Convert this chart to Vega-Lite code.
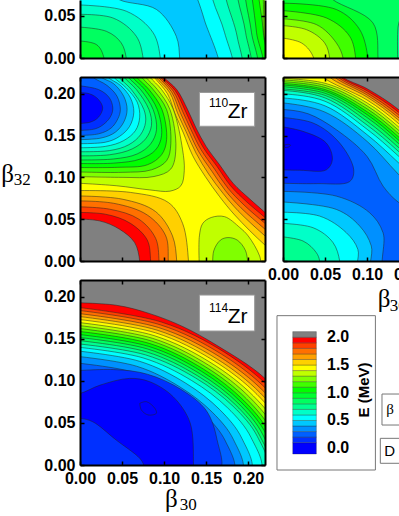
{"$schema":"https://vega.github.io/schema/vega-lite/v6.json","padding":{"left":1,"top":0,"right":0,"bottom":0},"bounds":"flush","align":"each","columns":2,"spacing":{"row":19,"column":18},
"config":{"view":{"stroke":null},"axis":{"grid":false,"labelFont":"Liberation Sans","labelFontWeight":"bold","labelFontSize":16,"labelColor":"#000","tickColor":"#000","domainColor":"#000","domainWidth":2,"tickWidth":1.5,"tickSize":-4,"labelPadding":9,"labelOverlap":false,"labelFlush":false,"labelBound":false}},
"datasets":{
"a":[{"l":2,"x":-0.02,"y":0.0505},{"l":2,"x":0.023,"y":0.048},{"l":2,"x":0.047,"y":0.038},{"l":2,"x":0.065,"y":0.022},{"l":2,"x":0.071,"y":0},{"l":2,"x":0.071,"y":-0.02},{"l":2,"x":0.25,"y":-0.02},{"l":2,"x":0.25,"y":0.03},{"l":2,"x":0.22,"y":0.058},{"l":2,"x":0.202,"y":0.074},{"l":2,"x":0.182,"y":0.093},{"l":2,"x":0.166,"y":0.115},{"l":2,"x":0.15,"y":0.137},{"l":2,"x":0.138,"y":0.159},{"l":2,"x":0.128,"y":0.181},{"l":2,"x":0.115,"y":0.205},{"l":2,"x":0.099,"y":0.22},{"l":2,"x":0.09,"y":0.23},{"l":2,"x":-0.02,"y":0.23},
{"l":1.9,"x":-0.02,"y":0.058},{"l":1.9,"x":0.03,"y":0.056},{"l":1.9,"x":0.06,"y":0.045},{"l":1.9,"x":0.08,"y":0.025},{"l":1.9,"x":0.084,"y":0},{"l":1.9,"x":0.084,"y":-0.02},{"l":1.9,"x":0.25,"y":-0.02},{"l":1.9,"x":0.25,"y":0.025},{"l":1.9,"x":0.22,"y":0.052},{"l":1.9,"x":0.1985,"y":0.0705},{"l":1.9,"x":0.179,"y":0.09},{"l":1.9,"x":0.163,"y":0.113},{"l":1.9,"x":0.147,"y":0.135},{"l":1.9,"x":0.135,"y":0.158},{"l":1.9,"x":0.125,"y":0.18},{"l":1.9,"x":0.113,"y":0.204},{"l":1.9,"x":0.097,"y":0.22},{"l":1.9,"x":0.09,"y":0.23},{"l":1.9,"x":-0.02,"y":0.23},
{"l":1.8,"x":-0.02,"y":0.065},{"l":1.8,"x":0.035,"y":0.062},{"l":1.8,"x":0.07,"y":0.05},{"l":1.8,"x":0.09,"y":0.027},{"l":1.8,"x":0.094,"y":0},{"l":1.8,"x":0.094,"y":-0.02},{"l":1.8,"x":0.25,"y":-0.02},{"l":1.8,"x":0.25,"y":0.02},{"l":1.8,"x":0.22,"y":0.045},{"l":1.8,"x":0.195,"y":0.067},{"l":1.8,"x":0.176,"y":0.087},{"l":1.8,"x":0.16,"y":0.11},{"l":1.8,"x":0.144,"y":0.133},{"l":1.8,"x":0.132,"y":0.157},{"l":1.8,"x":0.122,"y":0.179},{"l":1.8,"x":0.111,"y":0.203},{"l":1.8,"x":0.095,"y":0.22},{"l":1.8,"x":0.088,"y":0.23},{"l":1.8,"x":-0.02,"y":0.23},
{"l":1.7,"x":-0.02,"y":0.072},{"l":1.7,"x":0.04,"y":0.069},{"l":1.7,"x":0.08,"y":0.055},{"l":1.7,"x":0.102,"y":0.03},{"l":1.7,"x":0.105,"y":0},{"l":1.7,"x":0.105,"y":-0.02},{"l":1.7,"x":0.25,"y":-0.02},{"l":1.7,"x":0.25,"y":0.012},{"l":1.7,"x":0.22,"y":0.038},{"l":1.7,"x":0.1915,"y":0.0635},{"l":1.7,"x":0.173,"y":0.084},{"l":1.7,"x":0.157,"y":0.107},{"l":1.7,"x":0.141,"y":0.131},{"l":1.7,"x":0.129,"y":0.156},{"l":1.7,"x":0.119,"y":0.178},{"l":1.7,"x":0.109,"y":0.202},{"l":1.7,"x":0.093,"y":0.22},{"l":1.7,"x":0.086,"y":0.23},{"l":1.7,"x":-0.02,"y":0.23},
{"l":1.6,"x":-0.02,"y":0.078},{"l":1.6,"x":0.05,"y":0.074},{"l":1.6,"x":0.09,"y":0.059},{"l":1.6,"x":0.11,"y":0.03},{"l":1.6,"x":0.115,"y":0},{"l":1.6,"x":0.115,"y":-0.02},{"l":1.6,"x":0.25,"y":-0.02},{"l":1.6,"x":0.25,"y":0.005},{"l":1.6,"x":0.22,"y":0.03},{"l":1.6,"x":0.188,"y":0.06},{"l":1.6,"x":0.17,"y":0.081},{"l":1.6,"x":0.153,"y":0.104},{"l":1.6,"x":0.138,"y":0.129},{"l":1.6,"x":0.126,"y":0.155},{"l":1.6,"x":0.116,"y":0.177},{"l":1.6,"x":0.107,"y":0.201},{"l":1.6,"x":0.09,"y":0.22},{"l":1.6,"x":0.083,"y":0.23},{"l":1.6,"x":-0.02,"y":0.23},
{"l":1.5,"x":-0.02,"y":0.084},{"l":1.5,"x":0.06,"y":0.082},{"l":1.5,"x":0.105,"y":0.07},{"l":1.5,"x":0.122,"y":0.045},{"l":1.5,"x":0.129,"y":0},{"l":1.5,"x":0.129,"y":-0.02},{"l":1.5,"x":0.25,"y":-0.02},{"l":1.5,"x":0.25,"y":-0.005},{"l":1.5,"x":0.22,"y":0.019},{"l":1.5,"x":0.184,"y":0.055},{"l":1.5,"x":0.166,"y":0.077},{"l":1.5,"x":0.149,"y":0.101},{"l":1.5,"x":0.134,"y":0.126},{"l":1.5,"x":0.123,"y":0.153},{"l":1.5,"x":0.113,"y":0.176},{"l":1.5,"x":0.104,"y":0.2},{"l":1.5,"x":0.088,"y":0.22},{"l":1.5,"x":0.081,"y":0.23},{"l":1.5,"x":-0.02,"y":0.23},
{"l":1.4,"x":-0.02,"y":0.094},{"l":1.4,"x":0.043,"y":0.09},{"l":1.4,"x":0.083,"y":0.085},{"l":1.4,"x":0.107,"y":0.0835},{"l":1.4,"x":0.12,"y":0.09},{"l":1.4,"x":0.124,"y":0.108},{"l":1.4,"x":0.122,"y":0.133},{"l":1.4,"x":0.111,"y":0.181},{"l":1.4,"x":0.097,"y":0.205},{"l":1.4,"x":0.083,"y":0.22},{"l":1.4,"x":0.076,"y":0.23},{"l":1.4,"x":-0.02,"y":0.23},
{"l":1.4,"g":1,"x":0.142,"y":-0.01},{"l":1.4,"g":1,"x":0.142,"y":0.03},{"l":1.4,"g":1,"x":0.146,"y":0.045},{"l":1.4,"g":1,"x":0.156,"y":0.052},{"l":1.4,"g":1,"x":0.172,"y":0.053},{"l":1.4,"g":1,"x":0.19,"y":0.04},{"l":1.4,"g":1,"x":0.2,"y":0.03},{"l":1.4,"g":1,"x":0.2136,"y":0.006},{"l":1.4,"g":1,"x":0.216,"y":-0.01},
{"l":1.3,"x":-0.02,"y":0.1015},{"l":1.3,"x":0.05,"y":0.1},{"l":1.3,"x":0.088,"y":0.101},{"l":1.3,"x":0.108,"y":0.11},{"l":1.3,"x":0.114,"y":0.135},{"l":1.3,"x":0.107,"y":0.181},{"l":1.3,"x":0.092,"y":0.205},{"l":1.3,"x":0.078,"y":0.22},{"l":1.3,"x":0.071,"y":0.23},{"l":1.3,"x":-0.02,"y":0.23},
{"l":1.3,"g":1,"x":0.158,"y":-0.01},{"l":1.3,"g":1,"x":0.159,"y":0.012},{"l":1.3,"g":1,"x":0.167,"y":0.025},{"l":1.3,"g":1,"x":0.176,"y":0.028},{"l":1.3,"g":1,"x":0.187,"y":0.025},{"l":1.3,"g":1,"x":0.197,"y":0.012},{"l":1.3,"g":1,"x":0.2,"y":-0.01},
{"l":1.2,"x":-0.02,"y":0.107},{"l":1.2,"x":0.05,"y":0.106},{"l":1.2,"x":0.085,"y":0.109},{"l":1.2,"x":0.103,"y":0.12},{"l":1.2,"x":0.108,"y":0.14},{"l":1.2,"x":0.103,"y":0.181},{"l":1.2,"x":0.087,"y":0.205},{"l":1.2,"x":0.073,"y":0.22},{"l":1.2,"x":0.066,"y":0.23},{"l":1.2,"x":-0.02,"y":0.23},
{"l":1.1,"x":-0.02,"y":0.112},{"l":1.1,"x":0.045,"y":0.112},{"l":1.1,"x":0.08,"y":0.115},{"l":1.1,"x":0.097,"y":0.127},{"l":1.1,"x":0.103,"y":0.145},{"l":1.1,"x":0.0975,"y":0.181},{"l":1.1,"x":0.082,"y":0.205},{"l":1.1,"x":0.067,"y":0.22},{"l":1.1,"x":0.06,"y":0.23},{"l":1.1,"x":-0.02,"y":0.23},
{"l":1,"x":-0.02,"y":0.117},{"l":1,"x":0.04,"y":0.117},{"l":1,"x":0.072,"y":0.122},{"l":1,"x":0.09,"y":0.133},{"l":1,"x":0.097,"y":0.15},{"l":1,"x":0.092,"y":0.181},{"l":1,"x":0.077,"y":0.205},{"l":1,"x":0.062,"y":0.22},{"l":1,"x":0.055,"y":0.23},{"l":1,"x":-0.02,"y":0.23},
{"l":0.9,"x":-0.02,"y":0.121},{"l":0.9,"x":0.04,"y":0.122},{"l":0.9,"x":0.068,"y":0.128},{"l":0.9,"x":0.084,"y":0.14},{"l":0.9,"x":0.091,"y":0.157},{"l":0.9,"x":0.087,"y":0.181},{"l":0.9,"x":0.072,"y":0.205},{"l":0.9,"x":0.057,"y":0.22},{"l":0.9,"x":0.05,"y":0.23},{"l":0.9,"x":-0.02,"y":0.23},
{"l":0.8,"x":-0.02,"y":0.126},{"l":0.8,"x":0.035,"y":0.127},{"l":0.8,"x":0.062,"y":0.134},{"l":0.8,"x":0.078,"y":0.146},{"l":0.8,"x":0.085,"y":0.162},{"l":0.8,"x":0.082,"y":0.181},{"l":0.8,"x":0.067,"y":0.205},{"l":0.8,"x":0.052,"y":0.22},{"l":0.8,"x":0.045,"y":0.23},{"l":0.8,"x":-0.02,"y":0.23},
{"l":0.7,"x":-0.02,"y":0.131},{"l":0.7,"x":0.035,"y":0.132},{"l":0.7,"x":0.058,"y":0.139},{"l":0.7,"x":0.072,"y":0.151},{"l":0.7,"x":0.078,"y":0.166},{"l":0.7,"x":0.076,"y":0.181},{"l":0.7,"x":0.061,"y":0.205},{"l":0.7,"x":0.046,"y":0.22},{"l":0.7,"x":0.04,"y":0.23},{"l":0.7,"x":-0.02,"y":0.23},
{"l":0.6,"x":-0.02,"y":0.1355},{"l":0.6,"x":0.03,"y":0.137},{"l":0.6,"x":0.052,"y":0.144},{"l":0.6,"x":0.066,"y":0.156},{"l":0.6,"x":0.071,"y":0.172},{"l":0.6,"x":0.068,"y":0.19},{"l":0.6,"x":0.055,"y":0.207},{"l":0.6,"x":0.04,"y":0.22},{"l":0.6,"x":0.034,"y":0.23},{"l":0.6,"x":-0.02,"y":0.23},
{"l":0.5,"x":-0.02,"y":0.1405},{"l":0.5,"x":0.03,"y":0.142},{"l":0.5,"x":0.047,"y":0.149},{"l":0.5,"x":0.059,"y":0.161},{"l":0.5,"x":0.064,"y":0.178},{"l":0.5,"x":0.06,"y":0.195},{"l":0.5,"x":0.048,"y":0.21},{"l":0.5,"x":0.033,"y":0.22},{"l":0.5,"x":0.027,"y":0.23},{"l":0.5,"x":-0.02,"y":0.23},
{"l":0.4,"x":-0.02,"y":0.145},{"l":0.4,"x":0.025,"y":0.147},{"l":0.4,"x":0.042,"y":0.154},{"l":0.4,"x":0.052,"y":0.166},{"l":0.4,"x":0.056,"y":0.181},{"l":0.4,"x":0.052,"y":0.197},{"l":0.4,"x":0.04,"y":0.212},{"l":0.4,"x":0.025,"y":0.22},{"l":0.4,"x":0.018,"y":0.23},{"l":0.4,"x":-0.02,"y":0.23},
{"l":0.3,"x":-0.02,"y":0.15},{"l":0.3,"x":0.022,"y":0.152},{"l":0.3,"x":0.037,"y":0.159},{"l":0.3,"x":0.045,"y":0.17},{"l":0.3,"x":0.048,"y":0.181},{"l":0.3,"x":0.044,"y":0.197},{"l":0.3,"x":0.032,"y":0.21},{"l":0.3,"x":0.015,"y":0.22},{"l":0.3,"x":0.008,"y":0.23},{"l":0.3,"x":-0.02,"y":0.23},
{"l":0.2,"x":-0.02,"y":0.156},{"l":0.2,"x":0.018,"y":0.158},{"l":0.2,"x":0.03,"y":0.165},{"l":0.2,"x":0.037,"y":0.174},{"l":0.2,"x":0.039,"y":0.183},{"l":0.2,"x":0.035,"y":0.195},{"l":0.2,"x":0.022,"y":0.205},{"l":0.2,"x":-0.02,"y":0.2115},
{"l":0.1,"x":-0.02,"y":0.164},{"l":0.1,"x":0.012,"y":0.166},{"l":0.1,"x":0.022,"y":0.172},{"l":0.1,"x":0.027,"y":0.183},{"l":0.1,"x":0.022,"y":0.193},{"l":0.1,"x":0.011,"y":0.2},{"l":0.1,"x":-0.02,"y":0.2015}],
"b":[{"l":2,"x":-0.02,"y":0.1934},{"l":2,"x":0.043,"y":0.19},{"l":2,"x":0.083,"y":0.18},{"l":2,"x":0.1225,"y":0.1645},{"l":2,"x":0.162,"y":0.1427},{"l":2,"x":0.22,"y":0.103},{"l":2,"x":0.2676,"y":0.0449},{"l":2,"x":0.2817,"y":-0.01},{"l":2,"x":-0.02,"y":-0.02},
{"l":1.9,"x":-0.02,"y":0.1895},{"l":1.9,"x":0.0968,"y":0.17},{"l":1.9,"x":0.1716,"y":0.1342},{"l":1.9,"x":0.2269,"y":0.0908},{"l":1.9,"x":0.2629,"y":0.044},{"l":1.9,"x":0.2767,"y":-0.01},{"l":1.9,"x":-0.02,"y":-0.02},
{"l":1.8,"x":-0.02,"y":0.186},{"l":1.8,"x":0.0951,"y":0.1668},{"l":1.8,"x":0.1685,"y":0.1317},{"l":1.8,"x":0.2229,"y":0.0891},{"l":1.8,"x":0.2582,"y":0.0432},{"l":1.8,"x":0.2718,"y":-0.01},{"l":1.8,"x":-0.02,"y":-0.02},
{"l":1.7,"x":-0.02,"y":0.1823},{"l":1.7,"x":0.0933,"y":0.1635},{"l":1.7,"x":0.1654,"y":0.1291},{"l":1.7,"x":0.2187,"y":0.0873},{"l":1.7,"x":0.2534,"y":0.0423},{"l":1.7,"x":0.2667,"y":-0.01},{"l":1.7,"x":-0.02,"y":-0.02},
{"l":1.6,"x":-0.02,"y":0.1788},{"l":1.6,"x":0.0915,"y":0.1604},{"l":1.6,"x":0.1621,"y":0.1266},{"l":1.6,"x":0.2144,"y":0.0856},{"l":1.6,"x":0.2484,"y":0.0415},{"l":1.6,"x":0.2615,"y":-0.01},{"l":1.6,"x":-0.02,"y":-0.02},
{"l":1.5,"x":-0.02,"y":0.1752},{"l":1.5,"x":0.0898,"y":0.1572},{"l":1.5,"x":0.1592,"y":0.124},{"l":1.5,"x":0.2105,"y":0.0839},{"l":1.5,"x":0.2439,"y":0.0406},{"l":1.5,"x":0.2567,"y":-0.01},{"l":1.5,"x":-0.02,"y":-0.02},
{"l":1.4,"x":-0.02,"y":0.1716},{"l":1.4,"x":0.088,"y":0.1539},{"l":1.4,"x":0.1558,"y":0.1215},{"l":1.4,"x":0.2061,"y":0.0822},{"l":1.4,"x":0.2387,"y":0.0398},{"l":1.4,"x":0.2513,"y":-0.01},{"l":1.4,"x":-0.02,"y":-0.02},
{"l":1.3,"x":-0.02,"y":0.168},{"l":1.3,"x":0.0861,"y":0.1507},{"l":1.3,"x":0.1526,"y":0.1189},{"l":1.3,"x":0.2018,"y":0.0805},{"l":1.3,"x":0.2338,"y":0.039},{"l":1.3,"x":0.2461,"y":-0.01},{"l":1.3,"x":-0.02,"y":-0.02},
{"l":1.2,"x":-0.02,"y":0.1645},{"l":1.2,"x":0.0845,"y":0.1476},{"l":1.2,"x":0.1496,"y":0.1165},{"l":1.2,"x":0.1979,"y":0.0788},{"l":1.2,"x":0.2292,"y":0.0382},{"l":1.2,"x":0.2413,"y":-0.01},{"l":1.2,"x":-0.02,"y":-0.02},
{"l":1.1,"x":-0.02,"y":0.161},{"l":1.1,"x":0.083,"y":0.1444},{"l":1.1,"x":0.1469,"y":0.114},{"l":1.1,"x":0.1943,"y":0.0771},{"l":1.1,"x":0.2252,"y":0.0374},{"l":1.1,"x":0.237,"y":-0.01},{"l":1.1,"x":-0.02,"y":-0.02},
{"l":1,"x":-0.02,"y":0.1573},{"l":1,"x":0.0816,"y":0.1411},{"l":1,"x":0.1445,"y":0.1114},{"l":1,"x":0.1911,"y":0.0753},{"l":1,"x":0.2214,"y":0.0365},{"l":1,"x":0.233,"y":-0.01},{"l":1,"x":-0.02,"y":-0.02},
{"l":0.9,"x":-0.02,"y":0.1538},{"l":0.9,"x":0.0802,"y":0.138},{"l":0.9,"x":0.142,"y":0.1089},{"l":0.9,"x":0.1878,"y":0.0737},{"l":0.9,"x":0.2176,"y":0.0357},{"l":0.9,"x":0.229,"y":-0.01},{"l":0.9,"x":-0.02,"y":-0.02},
{"l":0.8,"x":-0.02,"y":0.15},{"l":0.8,"x":0.0788,"y":0.1346},{"l":0.8,"x":0.1396,"y":0.1062},{"l":0.8,"x":0.1846,"y":0.0719},{"l":0.8,"x":0.2138,"y":0.0348},{"l":0.8,"x":0.2251,"y":-0.01},{"l":0.8,"x":-0.02,"y":-0.02},
{"l":0.7,"x":-0.02,"y":0.146},{"l":0.7,"x":0.0777,"y":0.131},{"l":0.7,"x":0.1376,"y":0.1034},{"l":0.7,"x":0.182,"y":0.0699},{"l":0.7,"x":0.2109,"y":0.0339},{"l":0.7,"x":0.222,"y":-0.01},{"l":0.7,"x":-0.02,"y":-0.02},
{"l":0.6,"x":-0.02,"y":0.142},{"l":0.6,"x":0.0749,"y":0.1274},{"l":0.6,"x":0.1327,"y":0.1005},{"l":0.6,"x":0.1755,"y":0.068},{"l":0.6,"x":0.2033,"y":0.0329},{"l":0.6,"x":0.214,"y":-0.01},{"l":0.6,"x":-0.02,"y":-0.02},
{"l":0.5,"x":-0.02,"y":0.1375},{"l":0.5,"x":0.0709,"y":0.1233},{"l":0.5,"x":0.1256,"y":0.0974},{"l":0.5,"x":0.1661,"y":0.0659},{"l":0.5,"x":0.1924,"y":0.0319},{"l":0.5,"x":0.2025,"y":-0.01},{"l":0.5,"x":-0.02,"y":-0.02},
{"l":0.4,"x":-0.02,"y":0.131},{"l":0.4,"x":0.0672,"y":0.1175},{"l":0.4,"x":0.119,"y":0.0927},{"l":0.4,"x":0.1574,"y":0.0627},{"l":0.4,"x":0.1824,"y":0.0304},{"l":0.4,"x":0.192,"y":-0.01},{"l":0.4,"x":-0.02,"y":-0.02},
{"l":0.3,"x":-0.02,"y":0.123},{"l":0.3,"x":0.0637,"y":0.1103},{"l":0.3,"x":0.1128,"y":0.0871},{"l":0.3,"x":0.1492,"y":0.0589},{"l":0.3,"x":0.1729,"y":0.0285},{"l":0.3,"x":0.182,"y":-0.01},{"l":0.3,"x":-0.02,"y":-0.02},
{"l":0.2,"x":-0.02,"y":0.111},{"l":0.2,"x":0.04,"y":0.1135},{"l":0.2,"x":0.08,"y":0.108},{"l":0.2,"x":0.12,"y":0.09},{"l":0.2,"x":0.15,"y":0.065},{"l":0.2,"x":0.163,"y":0.03},{"l":0.2,"x":0.165,"y":-0.01},{"l":0.2,"x":-0.02,"y":-0.02},
{"l":0.1,"x":-0.02,"y":0.082},{"l":0.1,"x":0,"y":0.085},{"l":0.1,"x":0.024,"y":0.095},{"l":0.1,"x":0.059,"y":0.103},{"l":0.1,"x":0.083,"y":0.099},{"l":0.1,"x":0.111,"y":0.081},{"l":0.1,"x":0.131,"y":0.05},{"l":0.1,"x":0.135,"y":0},{"l":0.1,"x":0.135,"y":-0.01},{"l":0.1,"x":0.0757,"y":-0.01},{"l":0.1,"x":0.0757,"y":0},{"l":0.1,"x":0.071,"y":0.008},{"l":0.1,"x":0.043,"y":0.0297},{"l":0.1,"x":0.015,"y":0.0515},{"l":0.1,"x":0,"y":0.0555},{"l":0.1,"x":-0.02,"y":0.056},
{"l":0.1,"g":1,"x":0.071,"y":0.0733},{"l":0.1,"g":1,"x":0.079,"y":0.0753},{"l":0.1,"g":1,"x":0.089,"y":0.0674},{"l":0.1,"g":1,"x":0.0908,"y":0.0614},{"l":0.1,"g":1,"x":0.081,"y":0.0595},{"l":0.1,"g":1,"x":0.073,"y":0.0654},{"l":0.1,"g":1,"x":0.071,"y":0.0733}],
"c":[{"l":1.3,"x":-0.02,"y":-0.02},{"l":1.3,"x":0.25,"y":-0.02},{"l":1.3,"x":0.25,"y":0.09},{"l":1.3,"x":-0.02,"y":0.09},
{"l":1.2,"x":-0.02,"y":-0.02},{"l":1.2,"x":0.24,"y":-0.02},{"l":1.2,"x":0.22,"y":0.02},{"l":1.2,"x":0.218,"y":0.069},{"l":1.2,"x":0.216,"y":0.09},{"l":1.2,"x":-0.02,"y":0.09},
{"l":1.1,"x":-0.02,"y":-0.02},{"l":1.1,"x":0.218,"y":-0.02},{"l":1.1,"x":0.218,"y":0.03},{"l":1.1,"x":0.213,"y":0.069},{"l":1.1,"x":0.21,"y":0.09},{"l":1.1,"x":-0.02,"y":0.09},
{"l":1,"x":-0.02,"y":-0.02},{"l":1,"x":0.2145,"y":-0.02},{"l":1,"x":0.21,"y":0.03},{"l":1,"x":0.205,"y":0.069},{"l":1,"x":0.202,"y":0.09},{"l":1,"x":-0.02,"y":0.09},
{"l":0.9,"x":-0.02,"y":0.021},{"l":0.9,"x":0.0195,"y":0.016},{"l":0.9,"x":0.0285,"y":0},{"l":0.9,"x":0.0285,"y":-0.02},{"l":0.9,"x":0.208,"y":-0.02},{"l":0.9,"x":0.204,"y":0.03},{"l":0.9,"x":0.197,"y":0.069},{"l":0.9,"x":0.195,"y":0.09},{"l":0.9,"x":-0.02,"y":0.09},
{"l":0.8,"x":-0.02,"y":0.0378},{"l":0.8,"x":0.0313,"y":0.0318},{"l":0.8,"x":0.049,"y":0.018},{"l":0.8,"x":0.055,"y":0},{"l":0.8,"x":0.055,"y":-0.02},{"l":0.8,"x":0.2,"y":-0.02},{"l":0.8,"x":0.197,"y":0.03},{"l":0.8,"x":0.188,"y":0.069},{"l":0.8,"x":0.185,"y":0.09},{"l":0.8,"x":-0.02,"y":0.09},
{"l":0.7,"x":-0.02,"y":0.0517},{"l":0.7,"x":0.039,"y":0.0477},{"l":0.7,"x":0.067,"y":0.0258},{"l":0.7,"x":0.075,"y":0},{"l":0.7,"x":0.075,"y":-0.02},{"l":0.7,"x":0.19,"y":-0.02},{"l":0.7,"x":0.187,"y":0.025},{"l":0.7,"x":0.174,"y":0.069},{"l":0.7,"x":0.17,"y":0.09},{"l":0.7,"x":-0.02,"y":0.09},
{"l":0.6,"x":-0.02,"y":0.0636},{"l":0.6,"x":0.055,"y":0.0557},{"l":0.6,"x":0.087,"y":0.03},{"l":0.6,"x":0.0955,"y":0},{"l":0.6,"x":0.0955,"y":-0.02},{"l":0.6,"x":0.18,"y":-0.02},{"l":0.6,"x":0.172,"y":0.03},{"l":0.6,"x":0.158,"y":0.069},{"l":0.6,"x":0.154,"y":0.09},{"l":0.6,"x":-0.02,"y":0.09},
{"l":0.5,"x":0.035,"y":0.08},{"l":0.5,"x":0.047,"y":0.0693},{"l":0.5,"x":0.091,"y":0.0577},{"l":0.5,"x":0.1145,"y":0.0258},{"l":0.5,"x":0.1185,"y":0},{"l":0.5,"x":0.1185,"y":-0.02},{"l":0.5,"x":0.165,"y":-0.02},{"l":0.5,"x":0.148,"y":0.045},{"l":0.5,"x":0.14,"y":0.0693},{"l":0.5,"x":0.135,"y":0.08}],
"d":[{"l":1.5,"x":-0.02,"y":-0.02},{"l":1.5,"x":0.25,"y":-0.02},{"l":1.5,"x":0.25,"y":0.09},{"l":1.5,"x":-0.02,"y":0.09},
{"l":1.4,"x":-0.02,"y":0.0259},{"l":1.4,"x":0.022,"y":0.0179},{"l":1.4,"x":0.0365,"y":0},{"l":1.4,"x":0.0365,"y":-0.02},{"l":1.4,"x":0.25,"y":-0.02},{"l":1.4,"x":0.25,"y":0.09},{"l":1.4,"x":-0.02,"y":0.09},
{"l":1.3,"x":-0.02,"y":0.0398},{"l":1.3,"x":0.0277,"y":0.0338},{"l":1.3,"x":0.0495,"y":0.018},{"l":1.3,"x":0.0555,"y":0},{"l":1.3,"x":0.0555,"y":-0.02},{"l":1.3,"x":0.25,"y":-0.02},{"l":1.3,"x":0.25,"y":0.09},{"l":1.3,"x":-0.02,"y":0.09},
{"l":1.2,"x":-0.02,"y":0.0477},{"l":1.2,"x":0.0396,"y":0.0398},{"l":1.2,"x":0.0634,"y":0.018},{"l":1.2,"x":0.0714,"y":0},{"l":1.2,"x":0.0714,"y":-0.02},{"l":1.2,"x":0.25,"y":-0.02},{"l":1.2,"x":0.25,"y":0.09},{"l":1.2,"x":-0.02,"y":0.09},
{"l":1.1,"x":-0.02,"y":0.0577},{"l":1.1,"x":0.0515,"y":0.0477},{"l":1.1,"x":0.0793,"y":0.0258},{"l":1.1,"x":0.0864,"y":0},{"l":1.1,"x":0.0864,"y":-0.02},{"l":1.1,"x":0.25,"y":-0.02},{"l":1.1,"x":0.25,"y":0.09},{"l":1.1,"x":-0.02,"y":0.09},
{"l":1,"x":-0.02,"y":0.0656},{"l":1,"x":0.0634,"y":0.0577},{"l":1,"x":0.0911,"y":0.034},{"l":1,"x":0.101,"y":0},{"l":1,"x":0.101,"y":-0.02},{"l":1,"x":0.25,"y":-0.02},{"l":1,"x":0.25,"y":0.09},{"l":1,"x":-0.02,"y":0.09},
{"l":0.9,"x":0.05,"y":0.08},{"l":0.9,"x":0.0595,"y":0.0693},{"l":0.9,"x":0.107,"y":0.0417},{"l":0.9,"x":0.113,"y":0},{"l":0.9,"x":0.113,"y":-0.02},{"l":0.9,"x":0.25,"y":-0.02},{"l":0.9,"x":0.25,"y":0.08},
{"l":0.8,"x":0.137,"y":-0.02},{"l":0.8,"x":0.137,"y":0.038},{"l":0.8,"x":0.141,"y":0.05},{"l":0.8,"x":0.15,"y":0.0693},{"l":0.8,"x":0.15,"y":0.09},{"l":0.8,"x":0.25,"y":0.09},{"l":0.8,"x":0.25,"y":-0.02}],
"e":[{"l":2,"x":-0.02,"y":0.23},{"l":2,"x":0.066,"y":0.23},{"l":2,"x":0.0713,"y":0.22},{"l":2,"x":0.1,"y":0.206},{"l":2,"x":0.1375,"y":0.181},{"l":2,"x":0.2,"y":0.121},{"l":2,"x":0.26,"y":0.06},{"l":2,"x":0.26,"y":-0.02},{"l":2,"x":-0.02,"y":-0.02},
{"l":1.9,"x":-0.02,"y":0.23},{"l":1.9,"x":0.063,"y":0.23},{"l":1.9,"x":0.0686,"y":0.22},{"l":1.9,"x":0.1,"y":0.2035},{"l":1.9,"x":0.1375,"y":0.1778},{"l":1.9,"x":0.2,"y":0.118},{"l":1.9,"x":0.26,"y":0.057},{"l":1.9,"x":0.26,"y":-0.02},{"l":1.9,"x":-0.02,"y":-0.02},
{"l":1.8,"x":-0.02,"y":0.23},{"l":1.8,"x":0.06,"y":0.23},{"l":1.8,"x":0.0654,"y":0.22},{"l":1.8,"x":0.1,"y":0.201},{"l":1.8,"x":0.1375,"y":0.1746},{"l":1.8,"x":0.2,"y":0.115},{"l":1.8,"x":0.26,"y":0.054},{"l":1.8,"x":0.26,"y":-0.02},{"l":1.8,"x":-0.02,"y":-0.02},
{"l":1.7,"x":-0.02,"y":0.23},{"l":1.7,"x":0.056,"y":0.23},{"l":1.7,"x":0.0615,"y":0.22},{"l":1.7,"x":0.1,"y":0.1985},{"l":1.7,"x":0.1375,"y":0.1714},{"l":1.7,"x":0.2,"y":0.111},{"l":1.7,"x":0.26,"y":0.05},{"l":1.7,"x":0.26,"y":-0.02},{"l":1.7,"x":-0.02,"y":-0.02},
{"l":1.6,"x":-0.02,"y":0.23},{"l":1.6,"x":0.05,"y":0.23},{"l":1.6,"x":0.0555,"y":0.22},{"l":1.6,"x":0.1,"y":0.196},{"l":1.6,"x":0.1375,"y":0.1683},{"l":1.6,"x":0.2,"y":0.108},{"l":1.6,"x":0.26,"y":0.047},{"l":1.6,"x":0.26,"y":-0.02},{"l":1.6,"x":-0.02,"y":-0.02},
{"l":1.5,"x":-0.02,"y":0.23},{"l":1.5,"x":0.042,"y":0.23},{"l":1.5,"x":0.0476,"y":0.22},{"l":1.5,"x":0.1,"y":0.1925},{"l":1.5,"x":0.1375,"y":0.1643},{"l":1.5,"x":0.2,"y":0.104},{"l":1.5,"x":0.26,"y":0.043},{"l":1.5,"x":0.26,"y":-0.02},{"l":1.5,"x":-0.02,"y":-0.02},
{"l":1.4,"x":-0.02,"y":0.2192},{"l":1.4,"x":0.05,"y":0.2125},{"l":1.4,"x":0.1,"y":0.189},{"l":1.4,"x":0.1375,"y":0.1603},{"l":1.4,"x":0.2,"y":0.1},{"l":1.4,"x":0.26,"y":0.04},{"l":1.4,"x":0.26,"y":-0.02},{"l":1.4,"x":-0.02,"y":-0.02},
{"l":1.3,"x":-0.02,"y":0.2176},{"l":1.3,"x":0.05,"y":0.21},{"l":1.3,"x":0.1,"y":0.1855},{"l":1.3,"x":0.1375,"y":0.1563},{"l":1.3,"x":0.2,"y":0.096},{"l":1.3,"x":0.26,"y":0.036},{"l":1.3,"x":0.26,"y":-0.02},{"l":1.3,"x":-0.02,"y":-0.02},
{"l":1.2,"x":-0.02,"y":0.2156},{"l":1.2,"x":0.05,"y":0.2075},{"l":1.2,"x":0.1,"y":0.182},{"l":1.2,"x":0.1375,"y":0.1523},{"l":1.2,"x":0.2,"y":0.092},{"l":1.2,"x":0.26,"y":0.032},{"l":1.2,"x":0.26,"y":-0.02},{"l":1.2,"x":-0.02,"y":-0.02},
{"l":1.1,"x":-0.02,"y":0.2136},{"l":1.1,"x":0.05,"y":0.205},{"l":1.1,"x":0.1,"y":0.1785},{"l":1.1,"x":0.1375,"y":0.1484},{"l":1.1,"x":0.2,"y":0.088},{"l":1.1,"x":0.26,"y":0.028},{"l":1.1,"x":0.26,"y":-0.02},{"l":1.1,"x":-0.02,"y":-0.02},
{"l":1,"x":-0.02,"y":0.2116},{"l":1,"x":0.05,"y":0.203},{"l":1,"x":0.1,"y":0.175},{"l":1,"x":0.1375,"y":0.1444},{"l":1,"x":0.2,"y":0.084},{"l":1,"x":0.26,"y":0.024},{"l":1,"x":0.26,"y":-0.02},{"l":1,"x":-0.02,"y":-0.02},
{"l":0.9,"x":-0.02,"y":0.2096},{"l":0.9,"x":0.05,"y":0.2005},{"l":0.9,"x":0.1,"y":0.1715},{"l":0.9,"x":0.1375,"y":0.1404},{"l":0.9,"x":0.2,"y":0.08},{"l":0.9,"x":0.26,"y":0.02},{"l":0.9,"x":0.26,"y":-0.02},{"l":0.9,"x":-0.02,"y":-0.02},
{"l":0.8,"x":-0.02,"y":0.2068},{"l":0.8,"x":0.05,"y":0.198},{"l":0.8,"x":0.1,"y":0.167},{"l":0.8,"x":0.1375,"y":0.1356},{"l":0.8,"x":0.2,"y":0.075},{"l":0.8,"x":0.26,"y":0.015},{"l":0.8,"x":0.26,"y":-0.02},{"l":0.8,"x":-0.02,"y":-0.02},
{"l":0.7,"x":-0.02,"y":0.0306},{"l":0.7,"x":0.0238,"y":0.0239},{"l":0.7,"x":0.0396,"y":0.01},{"l":0.7,"x":0.0436,"y":0},{"l":0.7,"x":0.0436,"y":-0.02},{"l":0.7,"x":0.26,"y":-0.02},{"l":0.7,"x":0.26,"y":0.01},{"l":0.7,"x":0.2,"y":0.07},{"l":0.7,"x":0.1375,"y":0.1309},{"l":0.7,"x":0.1,"y":0.1625},{"l":0.7,"x":0.05,"y":0.195},{"l":0.7,"x":0,"y":0.204},{"l":0.7,"x":-0.02,"y":0.204},
{"l":0.6,"x":-0.02,"y":0.0457},{"l":0.6,"x":0.0357,"y":0.0398},{"l":0.6,"x":0.0595,"y":0.022},{"l":0.6,"x":0.0674,"y":0},{"l":0.6,"x":0.0674,"y":-0.02},{"l":0.6,"x":0.26,"y":-0.02},{"l":0.6,"x":0.26,"y":0.005},{"l":0.6,"x":0.2,"y":0.065},{"l":0.6,"x":0.1375,"y":0.1253},{"l":0.6,"x":0.1,"y":0.1575},{"l":0.6,"x":0.05,"y":0.191},{"l":0.6,"x":0,"y":0.2},{"l":0.6,"x":-0.02,"y":0.2},
{"l":0.5,"x":-0.02,"y":0.0585},{"l":0.5,"x":0.0436,"y":0.0537},{"l":0.5,"x":0.0753,"y":0.0338},{"l":0.5,"x":0.089,"y":0.014},{"l":0.5,"x":0.091,"y":-0.02},{"l":0.5,"x":0.26,"y":-0.02},{"l":0.5,"x":0.26,"y":0},{"l":0.5,"x":0.2,"y":0.056},{"l":0.5,"x":0.1375,"y":0.1173},{"l":0.5,"x":0.1,"y":0.151},{"l":0.5,"x":0.05,"y":0.1855},{"l":0.5,"x":0,"y":0.195},{"l":0.5,"x":-0.02,"y":0.195},
{"l":0.4,"x":-0.02,"y":0.0716},{"l":0.4,"x":0.0634,"y":0.0617},{"l":0.4,"x":0.0912,"y":0.0418},{"l":0.4,"x":0.105,"y":0.018},{"l":0.4,"x":0.107,"y":-0.02},{"l":0.4,"x":0.26,"y":-0.02},{"l":0.4,"x":0.26,"y":-0.01},{"l":0.4,"x":0.2,"y":0.04},{"l":0.4,"x":0.1375,"y":0.1034},{"l":0.4,"x":0.1,"y":0.143},{"l":0.4,"x":0.05,"y":0.178},{"l":0.4,"x":0,"y":0.189},{"l":0.4,"x":-0.02,"y":0.189},
{"l":0.3,"x":-0.02,"y":0.0835},{"l":0.3,"x":0.0634,"y":0.0776},{"l":0.3,"x":0.103,"y":0.0577},{"l":0.3,"x":0.119,"y":0.0338},{"l":0.3,"x":0.123,"y":-0.02},{"l":0.3,"x":0.26,"y":-0.02},{"l":0.3,"x":0.26,"y":0.02},{"l":0.3,"x":0.18,"y":0.045},{"l":0.3,"x":0.1375,"y":0.07},{"l":0.3,"x":0.119,"y":0.0895},{"l":0.3,"x":0.1,"y":0.125},{"l":0.3,"x":0.0634,"y":0.157},{"l":0.3,"x":0.03,"y":0.176},{"l":0.3,"x":0,"y":0.1812},{"l":0.3,"x":-0.02,"y":0.1812},
{"l":0.2,"x":-0.02,"y":0.173},{"l":0.2,"x":0.0357,"y":0.165},{"l":0.2,"x":0.0674,"y":0.141},{"l":0.2,"x":0.0841,"y":0.109},{"l":0.2,"x":0.0793,"y":0.095},{"l":0.2,"x":0.04,"y":0.0925},{"l":0.2,"x":-0.02,"y":0.0935},
{"l":0.1,"x":-0.02,"y":0.1635},{"l":0.1,"x":0.0238,"y":0.155},{"l":0.1,"x":0.0515,"y":0.141},{"l":0.1,"x":0.0587,"y":0.1213},{"l":0.1,"x":0.0515,"y":0.109},{"l":0.1,"x":0.02,"y":0.1085},{"l":0.1,"x":-0.02,"y":0.1094},
{"l":0.1,"g":1,"x":0.001,"y":0.1385},{"l":0.1,"g":1,"x":0.006,"y":0.1395},{"l":0.1,"g":1,"x":0.009,"y":0.1385},{"l":0.1,"g":1,"x":0.006,"y":0.136},{"l":0.1,"g":1,"x":0.002,"y":0.136},{"l":0.1,"g":1,"x":0.001,"y":0.1385}]
},
"concat":[
{"width":185,"height":58,"view":{"fill":"#808080"},"resolve":{"axis":{"x":"independent","y":"independent"}},"layer":[
{"data":{"name":"c"},"mark":{"type":"line","interpolate":"catmull-rom","clip":true,"stroke":"#222","strokeWidth":0.5},"encoding":{"x":{"field":"x","type":"quantitative","title":null,"scale":{"domain":[0,0.22],"nice":false,"zero":false},"axis":{"orient":"bottom","values":[0,0.05,0.1,0.15,0.2],"labels":false,"zindex":1}},"y":{"field":"y","type":"quantitative","title":null,"scale":{"domain":[0,0.069],"nice":false,"zero":false},"axis":{"orient":"left","values":[0,0.05],"format":".2f","zindex":1}},"detail":{"field":"g","type":"nominal"},"order":{"value":null},"fill":{"field":"l","type":"ordinal","legend":null,"scale":{"domain":[0.1,0.2,0.3,0.4,0.5,0.6,0.7,0.8,0.9,1,1.1,1.2,1.3,1.4,1.5,1.6,1.7,1.8,1.9,2,2.1],"range":["#0000ff","#0030ff","#0060ff","#0090ff","#00c8ff","#00ffff","#00ffc8","#00ff90","#00ff60","#00ff30","#00ff00","#40ff00","#80ff00","#c0ff00","#ffff00","#ffd000","#ffa000","#ff7000","#ff4000","#ff0000","#808080"]}}}},
{"data":{"values":[{"x":0,"y":0}]},"mark":{"type":"point","opacity":0},"encoding":{"x":{"field":"x","type":"quantitative","title":null,"axis":{"orient":"top","domain":false,"ticks":false,"labels":false}},"y":{"field":"y","type":"quantitative","title":null,"axis":{"orient":"right","values":[0,0.05],"labels":false,"zindex":1}}}}
]},
{"width":185,"height":58,"view":{"fill":"#808080"},"resolve":{"axis":{"x":"independent","y":"independent"}},"layer":[
{"data":{"name":"d"},"mark":{"type":"line","interpolate":"catmull-rom","clip":true,"stroke":"#222","strokeWidth":0.5},"encoding":{"x":{"field":"x","type":"quantitative","title":null,"scale":{"domain":[0,0.22],"nice":false,"zero":false},"axis":{"orient":"bottom","values":[0,0.05,0.1,0.15,0.2],"labels":false,"zindex":1}},"y":{"field":"y","type":"quantitative","title":null,"scale":{"domain":[0,0.069],"nice":false,"zero":false},"axis":{"orient":"left","values":[0,0.05],"labels":false,"zindex":1}},"detail":{"field":"g","type":"nominal"},"order":{"value":null},"fill":{"field":"l","type":"ordinal","legend":null,"scale":{"domain":[0.1,0.2,0.3,0.4,0.5,0.6,0.7,0.8,0.9,1,1.1,1.2,1.3,1.4,1.5,1.6,1.7,1.8,1.9,2,2.1],"range":["#0000ff","#0030ff","#0060ff","#0090ff","#00c8ff","#00ffff","#00ffc8","#00ff90","#00ff60","#00ff30","#00ff00","#40ff00","#80ff00","#c0ff00","#ffff00","#ffd000","#ffa000","#ff7000","#ff4000","#ff0000","#808080"]}}}}
]},
{"width":185,"height":184,"view":{"fill":"#808080"},"resolve":{"axis":{"x":"independent","y":"independent"}},"layer":[
{"data":{"name":"a"},"mark":{"type":"line","interpolate":"catmull-rom","clip":true,"stroke":"#222","strokeWidth":0.5},"encoding":{"x":{"field":"x","type":"quantitative","title":null,"scale":{"domain":[0,0.22],"nice":false,"zero":false},"axis":{"orient":"bottom","values":[0,0.05,0.1,0.15,0.2],"labels":false,"zindex":1}},"y":{"field":"y","type":"quantitative","title":null,"scale":{"domain":[0,0.22],"nice":false,"zero":false},"axis":{"orient":"left","values":[0,0.05,0.1,0.15,0.2],"format":".2f","zindex":1}},"detail":{"field":"g","type":"nominal"},"order":{"value":null},"fill":{"field":"l","type":"ordinal","legend":null,"scale":{"domain":[0.1,0.2,0.3,0.4,0.5,0.6,0.7,0.8,0.9,1,1.1,1.2,1.3,1.4,1.5,1.6,1.7,1.8,1.9,2,2.1],"range":["#0000ff","#0030ff","#0060ff","#0090ff","#00c8ff","#00ffff","#00ffc8","#00ff90","#00ff60","#00ff30","#00ff00","#40ff00","#80ff00","#c0ff00","#ffff00","#ffd000","#ffa000","#ff7000","#ff4000","#ff0000","#808080"]}}}},
{"data":{"values":[{"x":0,"y":0}]},"mark":{"type":"point","opacity":0},"encoding":{"x":{"field":"x","type":"quantitative","title":null,"axis":{"orient":"top","values":[0,0.05,0.1,0.15,0.2],"labels":false,"zindex":1}},"y":{"field":"y","type":"quantitative","title":null,"axis":{"orient":"right","values":[0,0.05,0.1,0.15,0.2],"labels":false,"zindex":1}}}},
{"data":{"values":[{"x":0.142,"x2":0.2077,"y":0.1611,"y2":0.2015}]},"mark":{"type":"rect","fill":"#fff","stroke":"#999","strokeWidth":1},"encoding":{"x":{"field":"x","type":"quantitative","axis":null},"x2":{"field":"x2"},"y":{"field":"y","type":"quantitative","axis":null},"y2":{"field":"y2"}}},
{"data":{"values":[{"x":0.1534,"y":0.1846,"t":"110"}]},"mark":{"type":"text","font":"Liberation Sans","fontSize":12,"align":"left","baseline":"alphabetic"},"encoding":{"x":{"field":"x","type":"quantitative","axis":null},"y":{"field":"y","type":"quantitative","axis":null},"text":{"field":"t"}}},
{"data":{"values":[{"x":0.1756,"y":0.1707,"t":"Zr"}]},"mark":{"type":"text","font":"Liberation Sans","fontSize":21,"align":"left","baseline":"alphabetic"},"encoding":{"x":{"field":"x","type":"quantitative","axis":null},"y":{"field":"y","type":"quantitative","axis":null},"text":{"field":"t"}}},
{"data":{"values":[{"x":-0.086,"y":0.0948,"t":"β"}]},"mark":{"type":"text","font":"Liberation Serif","fontSize":25,"align":"center","baseline":"alphabetic"},"encoding":{"x":{"field":"x","type":"quantitative","axis":null},"y":{"field":"y","type":"quantitative","axis":null},"text":{"field":"t"}}},
{"data":{"values":[{"x":-0.0788,"y":0.0909,"t":"32"}]},"mark":{"type":"text","font":"Liberation Serif","fontSize":17,"align":"left","baseline":"alphabetic"},"encoding":{"x":{"field":"x","type":"quantitative","axis":null},"y":{"field":"y","type":"quantitative","axis":null},"text":{"field":"t"}}}
]},
{"width":185,"height":184,"view":{"fill":"#808080"},"resolve":{"axis":{"x":"independent","y":"independent"}},"layer":[
{"data":{"name":"e"},"mark":{"type":"line","interpolate":"catmull-rom","clip":true,"stroke":"#222","strokeWidth":0.5},"encoding":{"x":{"field":"x","type":"quantitative","title":null,"scale":{"domain":[0,0.22],"nice":false,"zero":false},"axis":{"orient":"bottom","values":[0,0.05,0.1,0.15,0.2],"format":".2f","zindex":1}},"y":{"field":"y","type":"quantitative","title":null,"scale":{"domain":[0,0.22],"nice":false,"zero":false},"axis":{"orient":"left","values":[0,0.05,0.1,0.15,0.2],"labels":false,"zindex":1}},"detail":{"field":"g","type":"nominal"},"order":{"value":null},"fill":{"field":"l","type":"ordinal","legend":null,"scale":{"domain":[0.1,0.2,0.3,0.4,0.5,0.6,0.7,0.8,0.9,1,1.1,1.2,1.3,1.4,1.5,1.6,1.7,1.8,1.9,2,2.1],"range":["#0000ff","#0030ff","#0060ff","#0090ff","#00c8ff","#00ffff","#00ffc8","#00ff90","#00ff60","#00ff30","#00ff00","#40ff00","#80ff00","#c0ff00","#ffff00","#ffd000","#ffa000","#ff7000","#ff4000","#ff0000","#808080"]}}}},
{"data":{"values":[{"x":0,"y":0}]},"mark":{"type":"point","opacity":0},"encoding":{"x":{"field":"x","type":"quantitative","title":null,"axis":{"orient":"top","values":[0,0.05,0.1,0.15,0.2],"labels":false,"zindex":1}},"y":{"field":"y","type":"quantitative","title":null,"axis":null}}},
{"data":{"values":[{"x":0.1203,"y":-0.0547,"t":"β"}]},"mark":{"type":"text","font":"Liberation Serif","fontSize":25,"align":"center","baseline":"alphabetic"},"encoding":{"x":{"field":"x","type":"quantitative","axis":null},"y":{"field":"y","type":"quantitative","axis":null},"text":{"field":"t"}}},
{"data":{"values":[{"x":0.1269,"y":-0.0598,"t":"30"}]},"mark":{"type":"text","font":"Liberation Serif","fontSize":17,"align":"left","baseline":"alphabetic"},"encoding":{"x":{"field":"x","type":"quantitative","axis":null},"y":{"field":"y","type":"quantitative","axis":null},"text":{"field":"t"}}}
]},
{"width":185,"height":185,"view":{"fill":"#808080"},"resolve":{"axis":{"x":"independent","y":"independent"}},"layer":[
{"data":{"name":"b"},"mark":{"type":"line","interpolate":"catmull-rom","clip":true,"stroke":"#222","strokeWidth":0.5},"encoding":{"x":{"field":"x","type":"quantitative","title":null,"scale":{"domain":[0,0.22],"nice":false,"zero":false},"axis":{"orient":"bottom","values":[0,0.05,0.1,0.15,0.2],"format":".2f","zindex":1}},"y":{"field":"y","type":"quantitative","title":null,"scale":{"domain":[0,0.22],"nice":false,"zero":false},"axis":{"orient":"left","values":[0,0.05,0.1,0.15,0.2],"format":".2f","zindex":1}},"detail":{"field":"g","type":"nominal"},"order":{"value":null},"fill":{"field":"l","type":"ordinal","legend":null,"scale":{"domain":[0.1,0.2,0.3,0.4,0.5,0.6,0.7,0.8,0.9,1,1.1,1.2,1.3,1.4,1.5,1.6,1.7,1.8,1.9,2,2.1],"range":["#0000ff","#0030ff","#0060ff","#0090ff","#00c8ff","#00ffff","#00ffc8","#00ff90","#00ff60","#00ff30","#00ff00","#40ff00","#80ff00","#c0ff00","#ffff00","#ffd000","#ffa000","#ff7000","#ff4000","#ff0000","#808080"]}}}},
{"data":{"values":[{"x":0,"y":0}]},"mark":{"type":"point","opacity":0},"encoding":{"x":{"field":"x","type":"quantitative","title":null,"axis":{"orient":"top","values":[0,0.05,0.1,0.15,0.2],"labels":false,"zindex":1}},"y":{"field":"y","type":"quantitative","title":null,"axis":{"orient":"right","values":[0,0.05,0.1,0.15,0.2],"labels":false,"zindex":1}}}},
{"data":{"values":[{"x":0.142,"x2":0.2077,"y":0.1593,"y2":0.2021}]},"mark":{"type":"rect","fill":"#fff","stroke":"#999","strokeWidth":1},"encoding":{"x":{"field":"x","type":"quantitative","axis":null},"x2":{"field":"x2"},"y":{"field":"y","type":"quantitative","axis":null},"y2":{"field":"y2"}}},
{"data":{"values":[{"x":0.1534,"y":0.1823,"t":"114"}]},"mark":{"type":"text","font":"Liberation Sans","fontSize":12,"align":"left","baseline":"alphabetic"},"encoding":{"x":{"field":"x","type":"quantitative","axis":null},"y":{"field":"y","type":"quantitative","axis":null},"text":{"field":"t"}}},
{"data":{"values":[{"x":0.1756,"y":0.1692,"t":"Zr"}]},"mark":{"type":"text","font":"Liberation Sans","fontSize":21,"align":"left","baseline":"alphabetic"},"encoding":{"x":{"field":"x","type":"quantitative","axis":null},"y":{"field":"y","type":"quantitative","axis":null},"text":{"field":"t"}}},
{"data":{"values":[{"x":0.1087,"y":-0.0505,"t":"β"}]},"mark":{"type":"text","font":"Liberation Serif","fontSize":25,"align":"center","baseline":"alphabetic"},"encoding":{"x":{"field":"x","type":"quantitative","axis":null},"y":{"field":"y","type":"quantitative","axis":null},"text":{"field":"t"}}},
{"data":{"values":[{"x":0.1186,"y":-0.0535,"t":"30"}]},"mark":{"type":"text","font":"Liberation Serif","fontSize":17,"align":"left","baseline":"alphabetic"},"encoding":{"x":{"field":"x","type":"quantitative","axis":null},"y":{"field":"y","type":"quantitative","axis":null},"text":{"field":"t"}}}
]},
{"width":98.4,"height":191,"layer":[
{"data":{"values":[{"x":0,"x2":1,"y":-0.393,"y2":2.39},{"x":1.067,"x2":1.4,"y":0.418,"y2":0.977},{"x":1.05,"x2":1.4,"y":-0.272,"y2":0.178}]},"mark":{"type":"rect","fill":"#fff","stroke":"#777","strokeWidth":1},"encoding":{"x":{"field":"x","type":"quantitative","title":null,"scale":{"domain":[0.061,1.061],"nice":false,"zero":false},"axis":null},"x2":{"field":"x2"},"y":{"field":"y","type":"quantitative","title":null,"scale":{"domain":[-0.411,3.033],"nice":false,"zero":false},"axis":null},"y2":{"field":"y2"}}},
{"data":{"values":[{"a":-0.105,"b":0.1,"l":0.1},{"a":0.1,"b":0.2,"l":0.2},{"a":0.2,"b":0.3,"l":0.3},{"a":0.3,"b":0.4,"l":0.4},{"a":0.4,"b":0.5,"l":0.5},{"a":0.5,"b":0.6,"l":0.6},{"a":0.6,"b":0.7,"l":0.7},{"a":0.7,"b":0.8,"l":0.8},{"a":0.8,"b":0.9,"l":0.9},{"a":0.9,"b":1,"l":1},{"a":1,"b":1.1,"l":1.1},{"a":1.1,"b":1.2,"l":1.2},{"a":1.2,"b":1.3,"l":1.3},{"a":1.3,"b":1.4,"l":1.4},{"a":1.4,"b":1.5,"l":1.5},{"a":1.5,"b":1.6,"l":1.6},{"a":1.6,"b":1.7,"l":1.7},{"a":1.7,"b":1.8,"l":1.8},{"a":1.8,"b":1.9,"l":1.9},{"a":1.9,"b":2,"l":2},{"a":2,"b":2.102,"l":2.1}]},"mark":{"type":"rect","stroke":"#222","strokeWidth":0.3},"encoding":{"x":{"datum":0.16,"type":"quantitative"},"x2":{"datum":0.4},"y":{"field":"a","type":"quantitative"},"y2":{"field":"b"},"fill":{"field":"l","type":"ordinal","legend":null,"scale":{"domain":[0.1,0.2,0.3,0.4,0.5,0.6,0.7,0.8,0.9,1,1.1,1.2,1.3,1.4,1.5,1.6,1.7,1.8,1.9,2,2.1],"range":["#0000ff","#0030ff","#0060ff","#0090ff","#00c8ff","#00ffff","#00ffc8","#00ff90","#00ff60","#00ff30","#00ff00","#40ff00","#80ff00","#c0ff00","#ffff00","#ffd000","#ffa000","#ff7000","#ff4000","#ff0000","#808080"]}}}},
{"data":{"values":[{"y":0,"t":"0.0"},{"y":0.5,"t":"0.5"},{"y":1,"t":"1.0"},{"y":1.5,"t":"1.5"},{"y":2,"t":"2.0"}]},"mark":{"type":"text","font":"Liberation Sans","fontWeight":"bold","fontSize":16,"align":"left","baseline":"middle"},"encoding":{"x":{"datum":0.508,"type":"quantitative"},"y":{"field":"y","type":"quantitative"},"text":{"field":"t"}}},
{"data":{"values":[{"y":1.05,"t":"E (MeV)"}]},"mark":{"type":"text","font":"Liberation Sans","fontWeight":"bold","fontSize":15,"angle":270,"align":"center","baseline":"middle"},"encoding":{"x":{"datum":0.885,"type":"quantitative"},"y":{"field":"y","type":"quantitative"},"text":{"field":"t"}}},
{"data":{"values":[{"x":1.11,"y":0.7,"t":"β"}]},"mark":{"type":"text","font":"Liberation Serif","fontSize":15,"align":"left","baseline":"middle"},"encoding":{"x":{"field":"x","type":"quantitative"},"y":{"field":"y","type":"quantitative"},"text":{"field":"t"}}},
{"data":{"values":[{"x":1.09,"y":-0.05,"t":"D"}]},"mark":{"type":"text","font":"Liberation Sans","fontSize":15,"align":"left","baseline":"middle"},"encoding":{"x":{"field":"x","type":"quantitative"},"y":{"field":"y","type":"quantitative"},"text":{"field":"t"}}}
]}
]}
